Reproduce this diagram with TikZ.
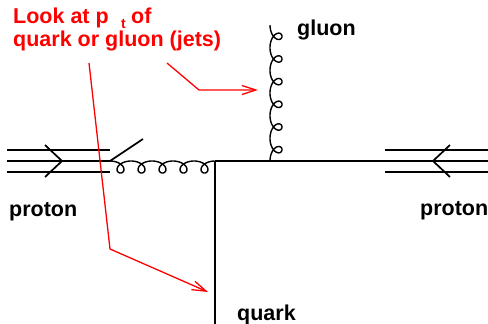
\documentclass[tikz,border=0pt]{standalone}
\usepackage{fontspec}
\setmainfont{Liberation Sans}
\usetikzlibrary{arrows.meta}
\begin{document}
\begin{tikzpicture}[x=1pt,y=-1pt,
  line/.style={line width=1.7pt, black},
  gl/.style={line width=1.4pt, black},
  lbl/.style={font=\fontsize{21.5}{24}\selectfont\bfseries, inner sep=0pt, anchor=base west},
  rlbl/.style={lbl, text=red},
  ptr/.style={draw=red, line width=1.3pt, -{Straight Barb[length=14pt,width=9pt,line width=1.3pt]}},
]
\useasboundingbox (0,0) rectangle (488,324);

% named points
\coordinate (pl) at (110,161);
\coordinate (qv) at (215,161);
\coordinate (gv) at (270,161);
\coordinate (rv) at (352,161);
\coordinate (sp) at (143,139);
\coordinate (qe) at (215,324);

% left proton
\draw[line] (7,150) -- (110,150);
\draw[line] (7,161) -- (pl);
\draw[line] (7,172) -- (110,172);
\draw[line] (45,145) -- (62,161) -- (45,177);

% right proton
\draw[line] (385,150) -- (488,150);
\draw[line] (rv) -- (488,161);
\draw[line] (385,172) -- (488,172);
\draw[line] (450,145) -- (433,161) -- (450,177);

% spectator
\draw[line] (pl) -- (sp);

% incoming gluon
\draw[gl] plot[domain=0:5, samples=300, variable=\u]
  ({110+21*\u+8*sin(360*\u)}, {161+6*(1-cos(360*\u))});

% quark lines
\draw[line] (qv) -- (rv);
\draw[line] (qv) -- (qe);

% outgoing gluon
\draw[gl] plot[domain=0:6, samples=360, variable=\u]
  ({270+6*(1-cos(360*\u))}, {161-22.67*\u-8*sin(360*\u)});

% labels
\node[lbl] (glab) at (297,35) {gluon};
\node[lbl] (plab) at (9,216) {proton};
\node[lbl] (prlab) at (420,215) {proton};
\node[lbl] (qlab) at (237,320) {quark};

\node[rlbl] (look) at (13,23.3) {Look at p};
\node[rlbl, font=\fontsize{14}{14}\selectfont\bfseries] (sub) at ([xshift=12pt,yshift=-5pt]look.base east) {t};
\node[rlbl] (of) at ([xshift=5pt,yshift=5pt]sub.base east) {of};
\node[rlbl] (qg) at (13,46.7) {quark or gluon (jets)};

% pointers
\coordinate (a1s) at (167,63);
\coordinate (a1c) at (199,90);
\coordinate (a1e) at (258,90);
\coordinate (a2s) at (89,63);
\coordinate (a2c) at (110,249);
\coordinate (a2e) at (208,292);
\draw[ptr] (a1s) -- (a1c) -- (a1e);
\draw[ptr] (a2s) -- (a2c) -- (a2e);
\end{tikzpicture}
\end{document}
